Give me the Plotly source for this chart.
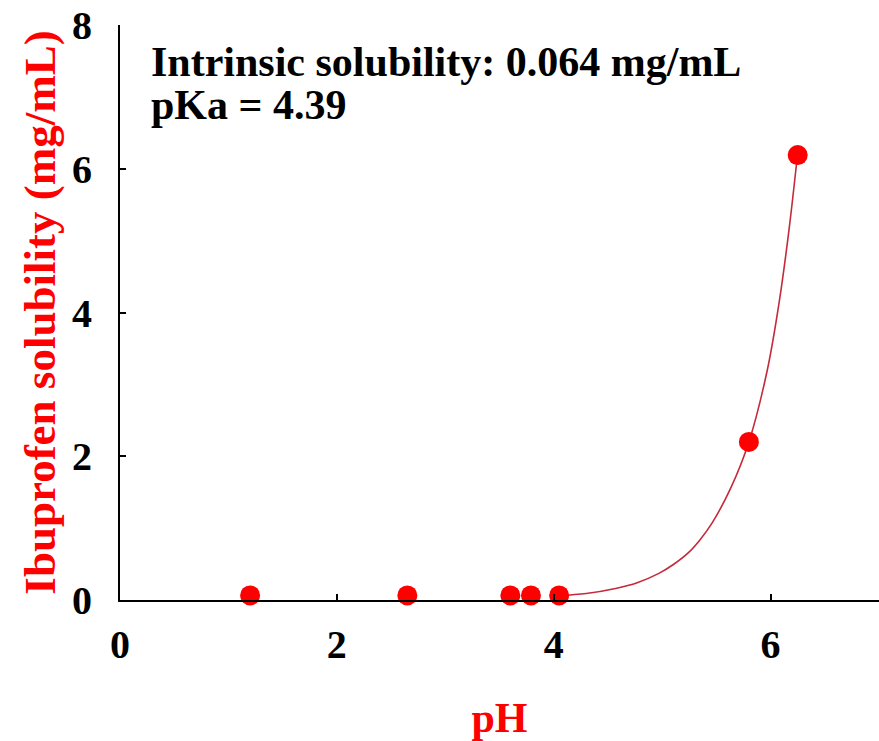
import plotly.graph_objects as go

# Measured ibuprofen solubility at each pH
ph_measured = [1.20, 2.65, 3.60, 3.79, 4.05, 5.80, 6.25]
solubility_measured = [0.064, 0.064, 0.064, 0.064, 0.064, 2.20, 6.19]

# Fitted pH-solubility profile
ph_fit = [4.05, 4.30, 4.57, 4.77, 4.97, 5.10, 5.25, 5.35, 5.46, 5.63, 5.80, 5.97, 6.08, 6.17, 6.24]
solubility_fit = [0.06, 0.09, 0.16, 0.24, 0.37, 0.49, 0.67, 0.84, 1.07, 1.55, 2.20, 3.20, 4.15, 5.15, 6.08]

x_ticks = [0, 2, 4, 6]
y_ticks = [0, 2, 4, 6, 8]

SERIF = "Liberation Serif, Times New Roman, serif"
RED = "#ff0000"

fig = go.Figure()

fig.add_trace(go.Scatter(
    x=ph_fit, y=solubility_fit, mode="lines",
    line=dict(color="#c42a3a", width=1.6, shape="spline", smoothing=1.0),
    hoverinfo="skip", showlegend=False,
))

fig.add_trace(go.Scatter(
    x=ph_measured, y=solubility_measured, mode="markers",
    marker=dict(color=RED, size=20, line=dict(width=0)),
    cliponaxis=False, showlegend=False,
))

fig.add_annotation(
    text="Intrinsic solubility: 0.064 mg/mL",
    xref="paper", yref="paper", x=0.038, y=0.936,
    xanchor="left", yanchor="middle", showarrow=False,
    font=dict(family=SERIF, size=42, color="black", weight="bold"),
)
fig.add_annotation(
    text="pKa = 4.39",
    xref="paper", yref="paper", x=0.038, y=0.861,
    xanchor="left", yanchor="middle", showarrow=False,
    font=dict(family=SERIF, size=42, color="black", weight="bold"),
)

fig.update_layout(
    width=879, height=741,
    margin=dict(l=120, r=0, t=25, b=141),
    paper_bgcolor="white", plot_bgcolor="white",
    font=dict(family=SERIF, color="black"),
    xaxis=dict(
        range=[0, 7], tickvals=x_ticks, showgrid=False, zeroline=False,
        showline=True, linecolor="black", linewidth=2,
        ticks="inside", ticklen=6, tickwidth=1.5, tickcolor="black",
        tickfont=dict(family=SERIF, size=40, color="black", weight="bold"),
        ticklabelstandoff=8,
        title=dict(text="pH", standoff=38,
                   font=dict(family=SERIF, size=42, color=RED, weight="bold")),
    ),
    yaxis=dict(
        range=[0, 8], tickvals=y_ticks, showgrid=False, zeroline=False,
        showline=True, linecolor="black", linewidth=2,
        ticks="inside", ticklen=6, tickwidth=1.5, tickcolor="black",
        tickfont=dict(family=SERIF, size=40, color="black", weight="bold"),
        ticklabelstandoff=18,
        title=dict(text="Ibuprofen solubility (mg/mL)", standoff=2,
                   font=dict(family=SERIF, size=45, color=RED, weight="bold")),
    ),
)

fig.write_html("out.html")
